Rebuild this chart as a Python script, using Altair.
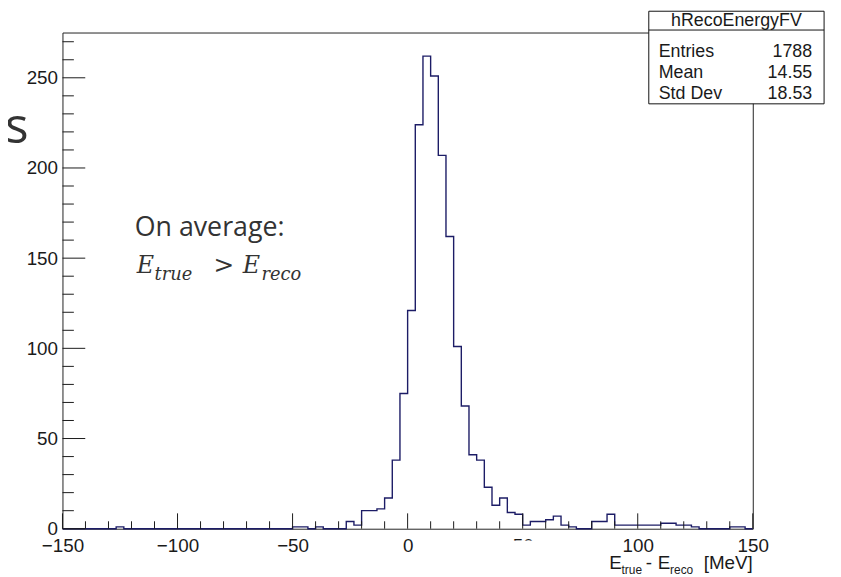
import altair as alt
import pandas as pd

# ---------------- data ----------------
x_min, x_max, n_bins = -150, 150, 90
counts = [
    0, 0, 0, 0, 0, 0, 0, 1, 0, 0,          # -150 .. -116.7
    0, 0, 0, 0, 0, 0, 0, 0, 0, 0,          # -116.7 .. -83.3
    0, 0, 0, 0, 0, 0, 0, 0, 0, 0,          # -83.3 .. -50
    1, 1, 0, 1, 0, 0, 0, 4, 2, 10,         # -50 .. -16.7
    10, 11, 17, 38, 75, 121, 224, 262, 251, 207,   # -16.7 .. 16.7
    162, 101, 68, 41, 38, 23, 13, 17, 9, 8,        # 16.7 .. 50
    2, 4, 4, 5, 7, 2, 1, 0, 0, 4,          # 50 .. 83.3
    4, 8, 2, 2, 2, 2, 2, 2, 3, 3,          # 83.3 .. 116.7
    2, 2, 1, 0, 0, 0, 0, 1, 1, 0,          # 116.7 .. 150
]
y_top = 275.1

x_major = [-150, -100, -50, 0, 50, 100, 150]
x_minor = [v for v in range(-150, 151, 10) if v % 50 != 0]
y_major = [0, 50, 100, 150, 200, 250]
y_minor = [v for v in range(10, 271, 10) if v % 50 != 0]

stat_names = ["Entries", "Mean", "Std Dev"]
stat_values = ["1788", "14.55", "18.53"]
hist_name = "hRecoEnergyFV"

# ---------------- geometry ----------------
W, H = 697, 501
FONT = "Liberation Sans"
INK = "#1a1a1a"
LINE = "#1c1c66"

width_bin = (x_max - x_min) / n_bins
edges = [x_min + i * width_bin for i in range(n_bins)] + [x_max]
hist_df = pd.DataFrame({"x": edges, "y": counts + [counts[-1]]})

xs = alt.Scale(domain=[x_min, x_max], nice=False, zero=False)
ys = alt.Scale(domain=[0, y_top], nice=False, zero=True)

x_axis = alt.Axis(
    values=x_major, ticks=False, tickSize=0, domain=False, grid=False,
    labelFont=FONT, labelFontSize=19, labelColor=INK, labelPadding=8,
    labelFlush=False, labelOverlap=False, labelBound=False, title="")
y_axis = alt.Axis(
    values=y_major, ticks=False, tickSize=0, domain=False, grid=False,
    labelFont=FONT, labelFontSize=19, labelColor=INK, labelPadding=5,
    labelFlush=False, labelOverlap=False, labelBound=False, title="")

hist = alt.Chart(hist_df).mark_line(
    interpolate="step-after", color=LINE, strokeWidth=1.4
).encode(
    x=alt.X("x:Q", scale=xs, axis=x_axis),
    y=alt.Y("y:Q", scale=ys, axis=y_axis),
)

def yticks(vals, length):
    return alt.Chart(pd.DataFrame({"y": vals})).mark_rule(color=INK, strokeWidth=1).encode(
        y=alt.Y("y:Q", scale=ys, axis=y_axis), x=alt.value(0), x2=alt.value(length))

def xticks(vals, length):
    return alt.Chart(pd.DataFrame({"x": vals})).mark_rule(color=INK, strokeWidth=1).encode(
        x=alt.X("x:Q", scale=xs, axis=x_axis), y=alt.value(H), y2=alt.value(H - length))

ticks = [yticks(y_major, 23), yticks(y_minor, 11.5), xticks(x_major, 15.5), xticks(x_minor, 7.5)]

one = pd.DataFrame({"k": [0]})

def txt(text, x, y, size, font=FONT, align="left", color=INK, style="normal"):
    return alt.Chart(pd.DataFrame({"t": [text]})).mark_text(
        align=align, baseline="alphabetic", font=font, fontSize=size,
        color=color, fontStyle=style
    ).encode(text="t:N", x=alt.value(x), y=alt.value(y))

# white patch hiding the lower part of the "50" label, as in the slide
patch = alt.Chart(one).mark_rect(color="white").encode(
    x=alt.value(448), x2=alt.value(480), y=alt.value(513), y2=alt.value(532))

# statistics box
box = alt.Chart(one).mark_rect(fill="white", stroke="#111", strokeWidth=1).encode(
    x=alt.value(592), x2=alt.value(769), y=alt.value(-21.5), y2=alt.value(72))
box_line = alt.Chart(one).mark_rule(color="#111", strokeWidth=1).encode(
    x=alt.value(592), x2=alt.value(769), y=alt.value(-2.5))
stat_layers = [box, box_line, txt(hist_name, 680.5, -7, 18, align="center")]
for i, (nm, vl) in enumerate(zip(stat_names, stat_values)):
    yb = 25 + i * 21
    stat_layers.append(txt(nm, 602, yb, 18))
    stat_layers.append(txt(vl, 757, yb, 18, align="right"))

# axis title  E_true - E_reco [MeV]
title_layers = [
    txt("E", 552, 542, 19),
    txt("true", 564.5, 547, 12),
    txt("-", 592, 542, 19, align="center"),
    txt("E", 601, 542, 19),
    txt("reco", 613.5, 547, 12),
    txt("[MeV]", 697, 542, 19, align="right"),
]

# slide annotations
SLIDE = "Open Sans"
DARK = "#333333"
MATH = "DejaVu Serif"
note_layers = [
    txt("On average:", 73, 205, 27, font=SLIDE, color=DARK),
    txt("E", 75, 243, 24, font=MATH, color=DARK, style="italic"),
    txt("true", 93, 250, 18, font=MATH, color=DARK, style="italic"),
    txt(">", 163, 243, 25, font=MATH, color=DARK, align="center"),
    txt("E", 182, 243, 24, font=MATH, color=DARK, style="italic"),
    txt("reco", 201, 250, 18, font=MATH, color=DARK, style="italic"),
    txt("s", -58, 112, 50, font=SLIDE, color=DARK),
]

chart = alt.layer(hist, *ticks, patch, *stat_layers, *title_layers, *note_layers).properties(
    width=W, height=H,
    autosize=alt.AutoSizeParams(type="none"),
    padding={"left": 55, "top": 22, "right": 81, "bottom": 46},
).configure_view(stroke="#222", strokeWidth=1)

chart.save("out.html", embed_options={"renderer": "svg", "actions": False})
